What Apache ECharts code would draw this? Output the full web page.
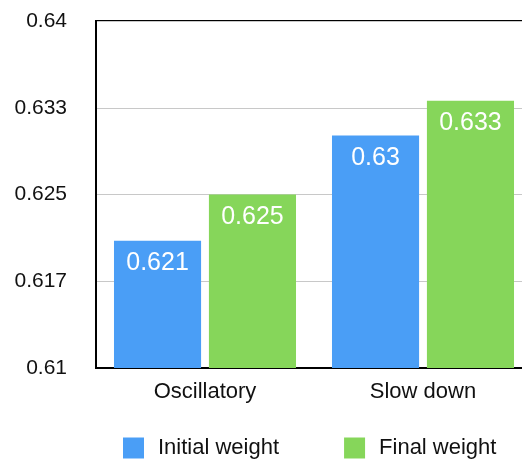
<!DOCTYPE html>
<html>
<head>
<meta charset="utf-8">
<style>
  html, body { margin: 0; padding: 0; background: #fff; }
  #chart { width: 522px; height: 462px; }
</style>
<script src="https://cdn.jsdelivr.net/npm/echarts@6/dist/echarts.min.js"></script>
</head>
<body>
<div id="chart"></div>
<script>
// data
const categories = ['Oscillatory', 'Slow down']
const initialWeight = [0.6210, 0.6301]
const finalWeight = [0.6250, 0.6331]
const yTickLabels = ['0.61', '0.617', '0.625', '0.633', '0.64']

const yMin = 0.61
const yStep = 0.0075
const font = 'Helvetica, "Liberation Sans", Arial, sans-serif'

const chart = echarts.init(document.getElementById('chart'))

// 柱顶数值，去掉多余的0
const barLabel = {
  show: true,
  position: 'insideTop',
  distance: 10,
  color: '#fff',
  fontSize: 25,
  fontFamily: font,
  formatter: p => String(parseFloat(p.value.toFixed(3)))
}

const option = {
  animation: false,
  textStyle: { fontFamily: font },
  // 右边界故意超出画布
  grid: {
    left: 96,
    top: 21,
    width: 436,
    bottom: 94,
    outerBoundsMode: 'none',
    show: true,
    borderColor: '#000',
    borderWidth: 2
  },
  legend: {
    left: 123,
    bottom: 3,
    padding: 0,
    itemWidth: 21,
    itemHeight: 21,
    itemGap: 65,
    icon: 'rect',
    textStyle: { fontSize: 22, color: '#111', fontFamily: font, padding: [0, 0, 0, 9] },
    data: ['Initial weight', 'Final weight']
  },
  xAxis: {
    type: 'category',
    data: categories,
    axisLine: { lineStyle: { color: '#000', width: 2 } },
    axisTick: { show: false },
    axisLabel: { color: '#111', fontSize: 22, margin: 13, fontFamily: font }
  },
  yAxis: {
    type: 'value',
    min: yMin,
    max: 0.64,
    interval: yStep,
    axisLine: { show: true, lineStyle: { color: '#000', width: 2 } },
    axisTick: { show: false },
    splitLine: { lineStyle: { color: '#c8c8c8', width: 1 } },
    axisLabel: {
      color: '#111',
      fontSize: 21,
      margin: 29,
      fontFamily: font,
      formatter: v => yTickLabels[Math.round((v - yMin) / yStep)]
    }
  },
  series: [
    {
      name: 'Initial weight',
      type: 'bar',
      data: initialWeight,
      barGap: '9%',
      barCategoryGap: '16.5%',
      itemStyle: { color: '#4a9ef6' },
      label: barLabel
    },
    {
      name: 'Final weight',
      type: 'bar',
      data: finalWeight,
      itemStyle: { color: '#86d65a' },
      label: barLabel
    }
  ]
}

chart.setOption(option)
</script>
</body>
</html>
